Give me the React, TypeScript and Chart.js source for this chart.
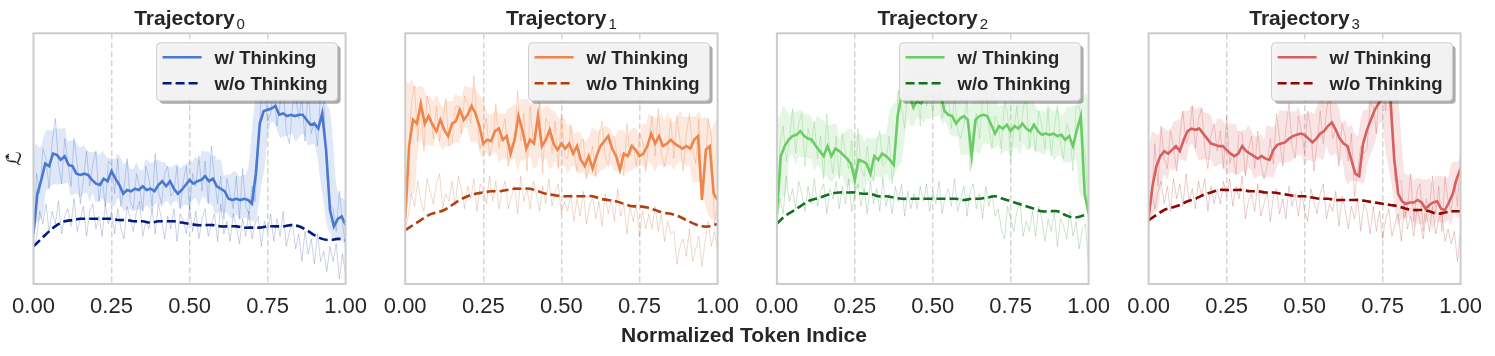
import React, { useEffect, useRef } from 'react';
import { Chart, registerables } from 'chart.js';
Chart.register(...registerables);

// ---------- data ----------
const xTicks = [0, 0.25, 0.5, 0.75, 1];
const titleMain = 'Trajectory';
const titleSubs = ['0', '1', '2', '3'];
const legendLabels = ['w/ Thinking', 'w/o Thinking'];
const axisTitle = 'Normalized Token Indice';
const yLabel = 'ℒ̂';

const mutedColors = ['#4878d0', '#ee854a', '#6acc64', '#d65f5f'];
const darkColors = ['#001c7f', '#b1400d', '#12711c', '#8c0800'];

// smoothed "w/ Thinking" (81 points, evenly spaced over 0..1)
const smoothW0 = [20,36,41.5,48,47,52,51.5,49.5,51,47.5,47,44,43.5,44,43.5,41.5,40,39.5,42,41,45,42,39.5,36,37.5,37,38,37.5,39,37.5,38,37,39.5,41,39,41,38,36,37.5,39.5,41.5,40,41,41.5,43,41,42,39,38,37,34,33.5,34,33.5,34,33.5,32,44,64,69,69.5,70,71,67.5,68,67,67.5,67,67.5,67.5,65.5,63.5,64,62,68,53.5,29.5,23,26,27,23.5];
const smoothW1 = [26,55,65.5,64,72,64,67,63.5,61,65.5,61.5,59,64,65,69.5,65.5,67.5,71,68,63,56,57.5,57,61,62,57.5,59,52,57.5,67,61.5,54,57.5,56,67,55,57.5,61.5,56,53.5,56,54,56,52,55,49.5,47,51,46,51,55,57,59,54,51,45.5,52,51,55,53.5,51,52,55,60,56,59,55,56,57.5,56,55,54,55,54,57.5,59,33.5,53.5,55,36,33.5];
const smoothW2 = [28,51,55,57.5,59,59.5,61,59,58,57.5,55,53,51,55,51,54,53,51.5,50,48,41.5,49.5,49,48,44,51,49.5,52,51,49.5,47.5,67,75.5,74,75.5,70.5,73,72,75,76,75,73.5,76,69,67.5,67,64,66,67,65.5,51,65.5,67,67.5,67,63.5,60,63,62,63.5,61,63,62,64,62,61,63.5,61,59.5,60,59.5,60,59,59.5,57.5,59,55,61.5,67,36,28];
const smoothW3 = [27,39,47,51,53,52,53.5,55,53,57.5,61,62,61.5,62,60,58,56,55.5,55,55,53.5,52,51,52,55,53,52,51,50,51,50,49.5,53.5,55.5,56,56.5,58,59,59.5,60,59.5,58,56.5,58,60,61,63,64.5,61.5,58,56,55,49.5,44,43,56,61.5,65.5,69.5,72,75,76,73.5,49.5,36,33,32,32.5,32.5,33.5,32.5,30,31.5,32.5,33,30,29.5,32.5,36,42,46];

// smoothed "w/o Thinking" (41 points)
const smoothWo0 = [15,18,21,23.5,25,25.5,26,26,26,26,26,25.5,25.5,25,25,24.5,25,25,25,24.5,24,23.5,23.5,23.5,23,23,23,22.5,22.5,22.5,23,23,23,23.5,23,21.5,19.5,18,17.5,18,17.5];
const smoothWo1 = [21.5,23.5,25.5,27.5,28.5,29.5,31.5,33.5,35,36,36.5,37,37,37.5,38,38,38,37,36,35.5,35,35,35,35,35,34,33.5,33,32,31,31,30.5,29.5,28.5,28,27,25.5,24,23,23,24];
const smoothWo2 = [24,27,29,31,33,34,35,36,36.5,36.5,36.5,36,36,35,35,34.5,34,34,34,34,34,34,34,34,33.5,34,34,34.5,35,34,33,32,31,30,29,29,29,27.5,26.5,27,28];
const smoothWo3 = [25.5,27.5,29.5,30.5,31.5,33,34,35.5,36.5,37.5,37.5,37.5,37.5,37,37,36.5,36.5,36,35.5,35,35,34.5,34,34,33.5,33.5,33.5,33.5,33,32.5,32,31.5,31,30,29.5,29.5,29,28,28.5,29,29];

// raw "w/ Thinking" (101 points)
const rawW0 = [17,44,36,54,50,38,57,66,48,40,58,49,39,58,48,32,42,53,39,48,53,33,42,31,49,48,36,50,31,38,50,33,30,44,39,29,47,42,31,52,37,32,44,47,35,37,47,30,41,47,30,44,39,51,37,49,32,55,42,32,43,26,42,36,30,43,26,46,31,28,39,33,54,75,80,65,68,80,63,72,78,61,56,71,75,66,74,57,79,60,65,55,77,73,44,32,30,21,37,24,16];
const rawW1 = [22,50,72,79,57,72,53,75,70,58,71,57,64,74,55,56,71,71,60,75,72,64,83,65,54,61,66,51,56,72,54,61,66,47,56,56,77,57,68,45,71,56,60,72,44,66,64,52,65,46,68,51,50,63,53,45,56,58,42,49,55,43,59,65,51,47,57,59,49,52,43,64,51,56,47,60,57,45,57,67,51,70,52,47,53,66,50,67,57,45,60,68,54,48,66,35,46,66,59,24,32];
const rawW2 = [22,56,63,49,57,70,52,64,68,47,62,56,65,50,59,42,68,51,44,59,42,60,52,46,57,34,62,46,43,55,45,41,56,61,47,49,59,40,52,77,70,62,79,84,69,79,63,88,71,77,68,83,81,66,71,75,62,75,61,58,64,74,45,63,68,58,73,81,63,54,67,64,54,73,68,49,61,71,57,70,75,54,64,53,69,63,54,70,51,62,71,56,50,64,60,45,71,71,60,51,25];
const rawW3 = [24,35,56,39,63,50,46,61,55,45,59,69,56,59,71,54,66,70,54,46,59,64,53,61,46,67,48,52,44,61,60,43,54,59,46,61,48,42,47,58,48,68,58,47,62,72,55,50,67,61,52,69,61,45,56,69,56,69,76,58,62,47,64,59,49,60,35,45,55,52,54,72,71,60,81,79,69,88,71,41,41,41,26,31,44,25,37,40,21,34,30,43,28,39,21,43,33,29,41,31,54];

// raw "w/o Thinking" (101 points)
const rawWo0 = [16,18,29,24,32,21,29,24,33,20,27,30,23,34,21,26,31,19,29,32,22,27,19,32,24,29,20,30,22,18,31,26,21,29,33,19,25,22,30,20,32,26,18,27,22,30,17,28,25,20,31,21,29,18,26,30,19,24,28,17,32,20,25,17,28,23,16,26,19,29,18,24,27,15,25,21,28,17,26,19,29,15,21,24,14,20,9,21,12,18,8,20,9,13,5,15,9,16,2,12,4];
const rawWo1 = [22,27,36,31,41,33,29,42,37,32,40,44,30,36,33,41,31,43,38,30,39,34,42,29,40,37,32,43,33,41,30,37,41,30,35,39,28,43,33,38,30,41,36,29,39,32,42,31,37,40,28,33,29,36,25,34,27,37,24,31,35,26,33,23,36,28,34,25,38,27,32,20,31,25,32,19,29,22,28,22,31,21,28,17,25,20,21,8,15,18,11,22,9,14,19,7,17,25,15,21,13];
const rawWo2 = [24,34,28,43,33,38,30,41,36,29,39,32,42,31,37,40,28,38,34,41,30,39,32,42,29,36,40,31,38,28,41,32,38,29,42,31,36,28,39,33,40,27,37,30,36,30,39,33,40,29,37,32,41,28,35,38,31,42,29,34,39,27,37,40,30,36,26,39,31,36,27,30,22,18,31,26,21,29,33,19,25,21,29,19,31,26,17,26,21,29,15,26,23,18,29,19,25,14,22,24,7];
const rawWo3 = [21,37,30,37,41,32,39,29,42,34,40,31,44,33,38,30,41,35,42,29,39,32,38,32,41,35,42,31,39,34,43,26,33,36,29,40,27,32,37,25,35,38,28,34,26,39,31,36,27,37,29,25,38,33,28,36,40,26,32,29,37,23,35,30,22,31,26,34,21,32,29,20,31,21,29,18,26,30,19,24,28,17,32,22,27,19,30,25,18,28,21,31,20,26,29,17,22,16,21,9,22];

const smoothW = [smoothW0, smoothW1, smoothW2, smoothW3];
const smoothWo = [smoothWo0, smoothWo1, smoothWo2, smoothWo3];
const rawW = [rawW0, rawW1, rawW2, rawW3];
const rawWo = [rawWo0, rawWo1, rawWo2, rawWo3];

// ---------- layout ----------
const FONT = '"Liberation Sans", Arial, Helvetica, sans-serif';
const TEXT = '#262626';
const CANVAS_W = 380;
const CANVAS_H = 356;
const PLOT_LEFTS = [33.5, 405.2, 776.9, 1148.6];
const PLOT_W = 316.5;
const PLOT_TOP = 33.3;
const XAXIS_H = 72;

function rgba(hex: string, a: number) {
  const n = parseInt(hex.slice(1), 16);
  return `rgba(${(n >> 16) & 255},${(n >> 8) & 255},${n & 255},${a})`;
}
function toPoints(arr: number[]) {
  const n = arr.length - 1;
  return arr.map((v, i) => ({ x: i / n, y: v }));
}
// rolling mean +/- rolling std of the raw series (like a fill_between band)
function band(arr: number[], sign: number) {
  const n = arr.length - 1;
  return arr.map((_, i) => {
    const win = arr.slice(Math.max(0, i - 3), Math.min(arr.length, i + 4));
    const m = win.reduce((s, v) => s + v, 0) / win.length;
    const sd = Math.sqrt(win.reduce((s, v) => s + (v - m) * (v - m), 0) / win.length);
    return { x: i / n, y: m + sign * 1.2 * sd };
  });
}

function roundRect(ctx: CanvasRenderingContext2D, x: number, y: number, w: number, h: number, r: number) {
  ctx.beginPath();
  ctx.moveTo(x + r, y);
  ctx.lineTo(x + w - r, y);
  ctx.quadraticCurveTo(x + w, y, x + w, y + r);
  ctx.lineTo(x + w, y + h - r);
  ctx.quadraticCurveTo(x + w, y + h, x + w - r, y + h);
  ctx.lineTo(x + r, y + h);
  ctx.quadraticCurveTo(x, y + h, x, y + h - r);
  ctx.lineTo(x, y + r);
  ctx.quadraticCurveTo(x, y, x + r, y);
  ctx.closePath();
}

function Panel({ k }: { k: number }) {
  const ref = useRef<HTMLCanvasElement | null>(null);
  const canvasLeft = Math.floor(PLOT_LEFTS[k]) - 36;
  const padL = PLOT_LEFTS[k] - canvasLeft;

  useEffect(() => {
    if (!ref.current) return;
    const muted = mutedColors[k];
    const dark = darkColors[k];

    const decor = {
      id: 'decor' + k,
      afterDatasetsDraw(chart: any) {
        const { ctx, chartArea: a } = chart;
        ctx.save();
        ctx.strokeStyle = '#cccccc';
        ctx.lineWidth = 2;
        ctx.setLineDash([]);
        ctx.strokeRect(a.left, a.top, a.right - a.left, a.bottom - a.top);
        ctx.restore();
      },
      afterDraw(chart: any) {
        const { ctx, chartArea: a } = chart;
        ctx.save();
        // title with subscript
        const cx = (a.left + a.right) / 2;
        ctx.font = `bold 21px ${FONT}`;
        const w1 = ctx.measureText(titleMain).width;
        ctx.font = `15px ${FONT}`;
        const w2 = ctx.measureText(titleSubs[k]).width;
        const gap = 2;
        const sx = cx - (w1 + w2 + gap) / 2;
        ctx.fillStyle = TEXT;
        ctx.textBaseline = 'alphabetic';
        ctx.textAlign = 'left';
        ctx.font = `bold 21px ${FONT}`;
        ctx.fillText(titleMain, sx, 25);
        ctx.font = `15px ${FONT}`;
        ctx.fillText(titleSubs[k], sx + w1 + gap, 29);

        // y label (first panel only)
        if (k === 0) {
          ctx.save();
          ctx.translate(a.left - 17.5, (a.top + a.bottom) / 2);
          ctx.rotate(-Math.PI / 2);
          ctx.font = `20px "DejaVu Sans", sans-serif`;
          ctx.textAlign = 'center';
          ctx.textBaseline = 'middle';
          ctx.fillText(yLabel, 0, 0);
          ctx.restore();
        }

        // legend
        const bw = 181, bh = 58;
        const bx = a.right - 8 - bw;
        const by = a.top + 9.5;
        ctx.fillStyle = 'rgba(0,0,0,0.33)';
        roundRect(ctx, bx + 3, by + 3, bw, bh, 4);
        ctx.fill();
        ctx.fillStyle = 'rgba(245,245,245,0.95)';
        roundRect(ctx, bx, by, bw, bh, 4);
        ctx.fill();
        ctx.strokeStyle = '#cccccc';
        ctx.lineWidth = 1;
        ctx.stroke();
        ctx.lineWidth = 2.5;
        ctx.strokeStyle = muted;
        ctx.setLineDash([]);
        ctx.beginPath();
        ctx.moveTo(bx + 6, by + 14.5);
        ctx.lineTo(bx + 45, by + 14.5);
        ctx.stroke();
        ctx.strokeStyle = dark;
        ctx.setLineDash([9, 4]);
        ctx.beginPath();
        ctx.moveTo(bx + 6, by + 40.5);
        ctx.lineTo(bx + 45, by + 40.5);
        ctx.stroke();
        ctx.setLineDash([]);
        ctx.fillStyle = TEXT;
        ctx.font = `bold 18.5px ${FONT}`;
        ctx.textAlign = 'left';
        ctx.textBaseline = 'alphabetic';
        ctx.fillText(legendLabels[0], bx + 58, by + 21);
        ctx.fillText(legendLabels[1], bx + 58, by + 47);
        ctx.restore();
      },
    };

    const chart = new Chart(ref.current, {
      type: 'line',
      data: {
        datasets: [
          {
            data: toPoints(smoothW[k]),
            borderColor: muted,
            borderWidth: 2.6,
            pointRadius: 0,
            tension: 0,
            fill: false,
          },
          {
            data: toPoints(smoothWo[k]),
            borderColor: dark,
            borderWidth: 2.6,
            borderDash: [9, 4],
            pointRadius: 0,
            tension: 0.35,
            fill: false,
          },
          {
            data: toPoints(rawW[k]),
            borderColor: rgba(muted, 0.32),
            borderWidth: 1,
            pointRadius: 0,
            tension: 0,
            fill: false,
          },
          {
            data: toPoints(rawWo[k]),
            borderColor: rgba(dark, 0.2),
            borderWidth: 1,
            pointRadius: 0,
            tension: 0,
            fill: false,
          },
          {
            data: band(rawW[k], 1),
            borderWidth: 0,
            borderColor: 'rgba(0,0,0,0)',
            backgroundColor: rgba(muted, 0.17),
            pointRadius: 0,
            tension: 0.3,
            fill: '+1',
          },
          {
            data: band(rawW[k], -1),
            borderWidth: 0,
            borderColor: 'rgba(0,0,0,0)',
            pointRadius: 0,
            tension: 0.3,
            fill: false,
          },
        ],
      },
      options: {
        responsive: false,
        animation: false,
        devicePixelRatio: 1,
        events: [],
        layout: {
          padding: {
            left: padL,
            right: CANVAS_W - padL - PLOT_W,
            top: PLOT_TOP,
            bottom: 0,
          },
        },
        plugins: {
          legend: { display: false },
          tooltip: { enabled: false },
          title: { display: false },
        },
        scales: {
          x: {
            type: 'linear',
            min: 0,
            max: 1,
            afterBuildTicks: (scale: any) => {
              scale.ticks = xTicks.map((v) => ({ value: v }));
            },
            afterFit: (scale: any) => {
              scale.height = XAXIS_H;
            },
            ticks: {
              callback: (v: any) => Number(v).toFixed(2),
              font: { family: FONT, size: 22 },
              color: TEXT,
              padding: 10,
              maxRotation: 0,
              autoSkip: false,
            },
            grid: {
              color: (ctx: any) =>
                ctx.tick && (ctx.tick.value === 0 || ctx.tick.value === 1)
                  ? 'rgba(0,0,0,0)'
                  : '#d5d5d5',
              lineWidth: 1.5,
              drawTicks: false,
            },
            border: { display: false, dash: [6, 3] },
          },
          y: {
            display: false,
            min: 0,
            max: 100,
          },
        },
      } as any,
      plugins: [decor],
    });
    return () => chart.destroy();
  }, [k]);

  return (
    <canvas
      ref={ref}
      width={CANVAS_W}
      height={CANVAS_H}
      style={{ position: 'absolute', left: canvasLeft, top: 0, width: CANVAS_W, height: CANVAS_H }}
    />
  );
}

export default function App() {
  return (
    <div style={{ position: 'absolute', left: 0, top: 0, width: 1495, height: 356, background: '#fff', overflow: 'hidden' }}>
      {[0, 1, 2, 3].map((k) => (
        <Panel key={k} k={k} />
      ))}
      <div
        style={{
          position: 'absolute',
          left: 0,
          width: 1488,
          top: 322,
          textAlign: 'center',
          font: `bold 21px ${FONT}`,
          lineHeight: '26px',
          color: TEXT,
        }}
      >
        {axisTitle}
      </div>
    </div>
  );
}
